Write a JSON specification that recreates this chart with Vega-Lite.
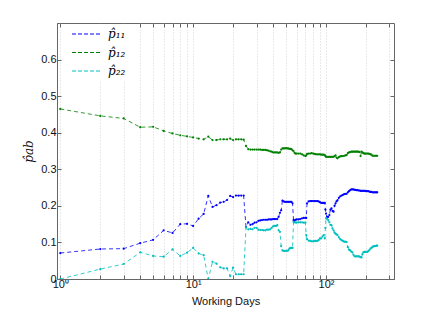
{
  "$schema": "https://vega.github.io/schema/vega-lite/v6.json",
  "width": 337,
  "height": 256,
  "autosize": {"type": "none"},
  "padding": {"left": 57, "top": 23, "right": 42, "bottom": 35},
  "background": "white",
  "config": {
    "view": {"stroke": "#666", "strokeWidth": 1},
    "axis": {
      "labelFont": "Liberation Sans",
      "labelFontSize": 11,
      "labelColor": "#111",
      "titleFont": "Liberation Sans",
      "titleFontSize": 11,
      "titleFontWeight": "normal",
      "titleColor": "#111",
      "domainColor": "#666",
      "tickColor": "#666",
      "tickSize": -4,
      "grid": false
    }
  },
  "data": {
    "values": [
      {"d": 1, "a": 0.071, "b": 0.465, "c": 0},
      {"d": 2, "a": 0.082, "b": 0.446, "c": 0.027},
      {"d": 3, "a": 0.083, "b": 0.439, "c": 0.041},
      {"d": 4, "a": 0.098, "b": 0.415, "c": 0.073},
      {"d": 5, "a": 0.107, "b": 0.416, "c": 0.063},
      {"d": 6, "a": 0.133, "b": 0.405, "c": 0.061},
      {"d": 7, "a": 0.126, "b": 0.398, "c": 0.081},
      {"d": 8, "a": 0.150, "b": 0.393, "c": 0.063},
      {"d": 9, "a": 0.151, "b": 0.390, "c": 0.072},
      {"d": 10, "a": 0.145, "b": 0.387, "c": 0.085},
      {"d": 11, "a": 0.165, "b": 0.384, "c": 0.070},
      {"d": 12, "a": 0.178, "b": 0.382, "c": 0.065},
      {"d": 13, "a": 0.227, "b": 0.389, "c": 0},
      {"d": 14, "a": 0.197, "b": 0.380, "c": 0.047},
      {"d": 15, "a": 0.202, "b": 0.380, "c": 0.042},
      {"d": 16, "a": 0.209, "b": 0.382, "c": 0.032},
      {"d": 17, "a": 0.211, "b": 0.382, "c": 0.029},
      {"d": 18, "a": 0.216, "b": 0.382, "c": 0.029},
      {"d": 19, "a": 0.227, "b": 0.384, "c": 0.008},
      {"d": 20, "a": 0.224, "b": 0.380, "c": 0.031},
      {"d": 21, "a": 0.228, "b": 0.382, "c": 0.013},
      {"d": 22, "a": 0.228, "b": 0.382, "c": 0.013},
      {"d": 23, "a": 0.228, "b": 0.382, "c": 0.013},
      {"d": 24, "a": 0.228, "b": 0.381, "c": 0.013},
      {"d": 25, "a": 0.142, "b": 0.364, "c": 0.141},
      {"d": 26, "a": 0.155, "b": 0.355, "c": 0.136},
      {"d": 27, "a": 0.148, "b": 0.354, "c": 0.137},
      {"d": 28, "a": 0.150, "b": 0.354, "c": 0.136},
      {"d": 29, "a": 0.154, "b": 0.354, "c": 0.140},
      {"d": 30, "a": 0.155, "b": 0.354, "c": 0.140},
      {"d": 31, "a": 0.159, "b": 0.354, "c": 0.135},
      {"d": 32, "a": 0.160, "b": 0.354, "c": 0.134},
      {"d": 33, "a": 0.161, "b": 0.353, "c": 0.134},
      {"d": 34, "a": 0.162, "b": 0.353, "c": 0.133},
      {"d": 35, "a": 0.162, "b": 0.353, "c": 0.133},
      {"d": 36, "a": 0.162, "b": 0.352, "c": 0.135},
      {"d": 37, "a": 0.163, "b": 0.351, "c": 0.135},
      {"d": 38, "a": 0.163, "b": 0.349, "c": 0.136},
      {"d": 39, "a": 0.163, "b": 0.348, "c": 0.140},
      {"d": 40, "a": 0.164, "b": 0.346, "c": 0.144},
      {"d": 41, "a": 0.164, "b": 0.346, "c": 0.145},
      {"d": 42, "a": 0.164, "b": 0.346, "c": 0.145},
      {"d": 43, "a": 0.164, "b": 0.346, "c": 0.147},
      {"d": 44, "a": 0.170, "b": 0.345, "c": 0.133},
      {"d": 45, "a": 0.181, "b": 0.346, "c": 0.129},
      {"d": 46, "a": 0.188, "b": 0.354, "c": 0.090},
      {"d": 47, "a": 0.214, "b": 0.357, "c": 0.078},
      {"d": 48, "a": 0.212, "b": 0.357, "c": 0.077},
      {"d": 49, "a": 0.211, "b": 0.357, "c": 0.077},
      {"d": 50, "a": 0.211, "b": 0.358, "c": 0.077},
      {"d": 51, "a": 0.211, "b": 0.357, "c": 0.077},
      {"d": 52, "a": 0.211, "b": 0.357, "c": 0.078},
      {"d": 53, "a": 0.211, "b": 0.356, "c": 0.083},
      {"d": 54, "a": 0.211, "b": 0.356, "c": 0.085},
      {"d": 55, "a": 0.211, "b": 0.355, "c": 0.085},
      {"d": 56, "a": 0.207, "b": 0.352, "c": 0.085},
      {"d": 57, "a": 0.161, "b": 0.350, "c": 0.156},
      {"d": 58, "a": 0.160, "b": 0.345, "c": 0.155},
      {"d": 59, "a": 0.162, "b": 0.343, "c": 0.155},
      {"d": 60, "a": 0.163, "b": 0.343, "c": 0.154},
      {"d": 62, "a": 0.163, "b": 0.343, "c": 0.155},
      {"d": 64, "a": 0.164, "b": 0.343, "c": 0.155},
      {"d": 66, "a": 0.166, "b": 0.341, "c": 0.155},
      {"d": 68, "a": 0.167, "b": 0.338, "c": 0.154},
      {"d": 70, "a": 0.167, "b": 0.336, "c": 0.154},
      {"d": 71, "a": 0.167, "b": 0.338, "c": 0.120},
      {"d": 72, "a": 0.207, "b": 0.342, "c": 0.109},
      {"d": 74, "a": 0.212, "b": 0.343, "c": 0.105},
      {"d": 76, "a": 0.213, "b": 0.343, "c": 0.104},
      {"d": 78, "a": 0.213, "b": 0.344, "c": 0.103},
      {"d": 80, "a": 0.213, "b": 0.343, "c": 0.103},
      {"d": 82, "a": 0.213, "b": 0.342, "c": 0.104},
      {"d": 84, "a": 0.213, "b": 0.341, "c": 0.104},
      {"d": 86, "a": 0.213, "b": 0.341, "c": 0.104},
      {"d": 88, "a": 0.212, "b": 0.341, "c": 0.106},
      {"d": 90, "a": 0.210, "b": 0.341, "c": 0.111},
      {"d": 92, "a": 0.208, "b": 0.340, "c": 0.111},
      {"d": 94, "a": 0.208, "b": 0.340, "c": 0.116},
      {"d": 96, "a": 0.208, "b": 0.340, "c": 0.120},
      {"d": 98, "a": 0.208, "b": 0.339, "c": 0.111},
      {"d": 99, "a": 0.190, "b": 0.336, "c": 0.140},
      {"d": 100, "a": 0.179, "b": 0.334, "c": 0.166},
      {"d": 102, "a": 0.170, "b": 0.334, "c": 0.165},
      {"d": 104, "a": 0.170, "b": 0.334, "c": 0.161},
      {"d": 106, "a": 0.175, "b": 0.334, "c": 0.155},
      {"d": 108, "a": 0.190, "b": 0.334, "c": 0.148},
      {"d": 110, "a": 0.193, "b": 0.334, "c": 0.147},
      {"d": 112, "a": 0.186, "b": 0.334, "c": 0.138},
      {"d": 114, "a": 0.184, "b": 0.334, "c": 0.133},
      {"d": 116, "a": 0.200, "b": 0.336, "c": 0.127},
      {"d": 118, "a": 0.207, "b": 0.338, "c": 0.124},
      {"d": 120, "a": 0.212, "b": 0.332, "c": 0.122},
      {"d": 122, "a": 0.215, "b": 0.330, "c": 0.120},
      {"d": 125, "a": 0.222, "b": 0.333, "c": 0.114},
      {"d": 128, "a": 0.226, "b": 0.335, "c": 0.109},
      {"d": 131, "a": 0.228, "b": 0.336, "c": 0.106},
      {"d": 134, "a": 0.230, "b": 0.336, "c": 0.104},
      {"d": 137, "a": 0.232, "b": 0.337, "c": 0.102},
      {"d": 140, "a": 0.233, "b": 0.338, "c": 0.102},
      {"d": 143, "a": 0.233, "b": 0.339, "c": 0.101},
      {"d": 146, "a": 0.237, "b": 0.344, "c": 0.087},
      {"d": 149, "a": 0.240, "b": 0.346, "c": 0.080},
      {"d": 152, "a": 0.243, "b": 0.347, "c": 0.078},
      {"d": 155, "a": 0.245, "b": 0.348, "c": 0.075},
      {"d": 158, "a": 0.245, "b": 0.348, "c": 0.073},
      {"d": 161, "a": 0.245, "b": 0.348, "c": 0.066},
      {"d": 164, "a": 0.244, "b": 0.348, "c": 0.062},
      {"d": 167, "a": 0.244, "b": 0.348, "c": 0.062},
      {"d": 170, "a": 0.243, "b": 0.348, "c": 0.062},
      {"d": 173, "a": 0.243, "b": 0.348, "c": 0.062},
      {"d": 176, "a": 0.242, "b": 0.348, "c": 0.062},
      {"d": 179, "a": 0.242, "b": 0.347, "c": 0.061},
      {"d": 182, "a": 0.241, "b": 0.336, "c": 0.060},
      {"d": 185, "a": 0.241, "b": 0.348, "c": 0.059},
      {"d": 188, "a": 0.241, "b": 0.346, "c": 0.068},
      {"d": 191, "a": 0.241, "b": 0.344, "c": 0.073},
      {"d": 194, "a": 0.241, "b": 0.343, "c": 0.074},
      {"d": 197, "a": 0.241, "b": 0.343, "c": 0.074},
      {"d": 200, "a": 0.240, "b": 0.343, "c": 0.074},
      {"d": 204, "a": 0.240, "b": 0.343, "c": 0.074},
      {"d": 208, "a": 0.240, "b": 0.343, "c": 0.076},
      {"d": 212, "a": 0.239, "b": 0.342, "c": 0.079},
      {"d": 216, "a": 0.238, "b": 0.341, "c": 0.083},
      {"d": 220, "a": 0.238, "b": 0.340, "c": 0.085},
      {"d": 224, "a": 0.237, "b": 0.337, "c": 0.088},
      {"d": 228, "a": 0.237, "b": 0.337, "c": 0.089},
      {"d": 232, "a": 0.237, "b": 0.337, "c": 0.090},
      {"d": 236, "a": 0.237, "b": 0.337, "c": 0.090},
      {"d": 240, "a": 0.237, "b": 0.337, "c": 0.091},
      {"d": 243, "a": 0.237, "b": 0.337, "c": 0.091}
    ]
  },
  "transform": [{"fold": ["a", "b", "c"], "as": ["k", "v"]}],
  "resolve": {"axis": {"x": "independent", "y": "independent"}},
  "layer": [
    {
      "mark": {"type": "line", "strokeDash": [4, 3], "strokeWidth": 0.8, "clip": true,
               "point": {"filled": true, "size": 5}},
      "encoding": {
        "x": {"field": "d", "type": "quantitative",
              "scale": {"type": "log", "domain": [0.945, 325], "nice": false},
              "axis": {"title": "Working Days", "values": [1,2,3,4,5,6,7,8,9,10,20,30,40,50,60,70,80,90,100,200,300],
                       "labelExpr": "datum.value == 1 ? '10⁰' : datum.value == 10 ? '10¹' : datum.value == 100 ? '10²' : ''",
                       "grid": true, "gridColor": "#c4c4c4", "gridDash": [1, 2], "gridWidth": 0.7,
                       "labelPadding": 3, "titlePadding": 6, "labelFlush": false}},
        "y": {"field": "v", "type": "quantitative",
              "scale": {"domain": [0, 0.7], "nice": false},
              "axis": {"title": "p̂ab", "titleFont": "DejaVu Serif", "titleFontStyle": "italic", "titleFontSize": 12,
                       "values": [0, 0.1, 0.2, 0.3, 0.4, 0.5, 0.6],
                       "labelExpr": "datum.value == 0 ? '0' : format(datum.value, '.1f')",
                       "labelPadding": 5, "titlePadding": 5}},
        "color": {"field": "k", "type": "nominal",
                  "scale": {"domain": ["a", "b", "c"], "range": ["#0000FF", "#008000", "#00BFBF"]},
                  "legend": {"title": null, "orient": "none", "legendX": 20, "legendY": 1, "zindex": 2,
                             "fillColor": "white", "padding": 4, "rowPadding": 6.5,
                             "symbolType": "M-3,0H3", "symbolSize": 100, "symbolStrokeWidth": 1, "symbolDash": [4, 2],
                             "labelOffset": 15,
                             "labelFont": "DejaVu Serif", "labelFontStyle": "italic", "labelFontSize": 12,
                             "labelExpr": "datum.label == 'a' ? 'p̂₁₁' : datum.label == 'b' ? 'p̂₁₂' : 'p̂₂₂'"}}
      }
    },
    {
      "mark": {"type": "point", "opacity": 0},
      "encoding": {
        "x": {"field": "d", "type": "quantitative",
              "scale": {"type": "log", "domain": [0.945, 325], "nice": false},
              "axis": {"orient": "top", "title": null, "labels": false, "domain": false, "grid": false,
                       "values": [1,2,3,4,5,6,7,8,9,10,20,30,40,50,60,70,80,90,100,200,300]}},
        "y": {"field": "v", "type": "quantitative",
              "scale": {"domain": [0, 0.7], "nice": false},
              "axis": {"orient": "right", "title": null, "labels": false, "domain": false, "grid": false,
                       "values": [0, 0.1, 0.2, 0.3, 0.4, 0.5, 0.6]}}
      }
    }
  ]
}
